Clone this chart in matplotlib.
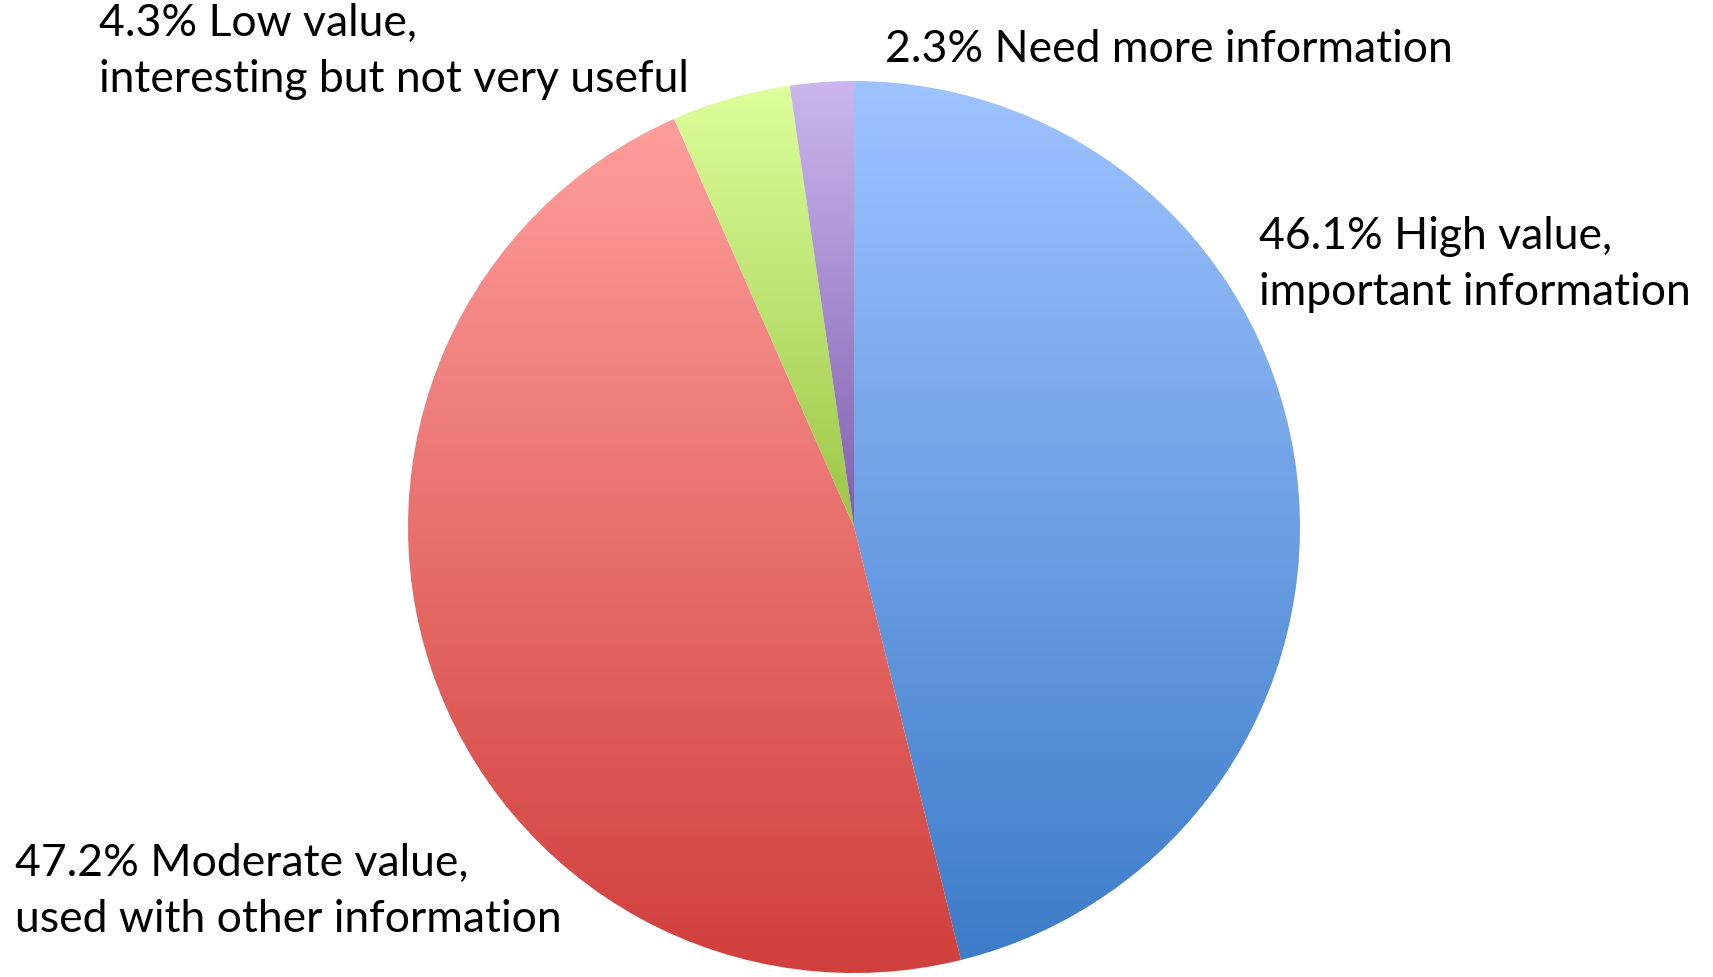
import numpy as np
import matplotlib.pyplot as plt
from matplotlib.colors import LinearSegmentedColormap

labels = ["46.1% High value,\nimportant information",
          "47.2% Moderate value,\nused with other information",
          "4.3% Low value,\ninteresting but not very useful",
          "2.3% Need more information"]
values = [46.1, 47.2, 4.3, 2.3]
top_colors = ["#9EC3FF", "#FF9E9C", "#DDFF9C", "#CBB6EE"]
bottom_colors = ["#3D7CC9", "#D03F3B", "#9CC645", "#7F5FAF"]

# label anchors in figure fractions (left, top of first line)
label_pos = [(1259 / 1713, 1 - 216 / 977),
             (15 / 1713, 1 - 843 / 977),
             (99 / 1713, 1 - 3 / 977),
             (885 / 1713, 1 - 29 / 977)]

plt.rcParams['font.family'] = ['Lato', 'DejaVu Sans']

fig = plt.figure(figsize=(17.13, 9.77), dpi=100)
ax = fig.add_axes([(854 - 446) / 1713, (977 - 527 - 446) / 977, 892 / 1713, 892 / 977])

wedges, _ = ax.pie(values, startangle=90, counterclock=False, radius=1.0,
                   wedgeprops=dict(linewidth=0))

# vertical gradient in each slice, light at top, dark at bottom
for w, c_top, c_bot in zip(wedges, top_colors, bottom_colors):
    t = np.radians(np.linspace(w.theta1, w.theta2, 200))
    xs = np.concatenate([[0], np.cos(t)])
    ys = np.concatenate([[0], np.sin(t)])
    cmap = LinearSegmentedColormap.from_list("g", [c_bot, c_top])
    grad = np.linspace(0, 1, 256).reshape(-1, 1)
    im = ax.imshow(grad, cmap=cmap, aspect="auto", origin="lower",
                   extent=(xs.min(), xs.max(), ys.min(), ys.max()), zorder=2)
    im.set_clip_path(w)
    w.set_facecolor("none")

ax.set_xlim(-1, 1)
ax.set_ylim(-1, 1)
ax.set_aspect("equal")
ax.axis("off")

for lab, (x, y) in zip(labels, label_pos):
    fig.text(x, y, lab, fontsize=32, ha="left", va="top", color="black",
             linespacing=1.45)

fig.savefig("out.png", dpi=100)
